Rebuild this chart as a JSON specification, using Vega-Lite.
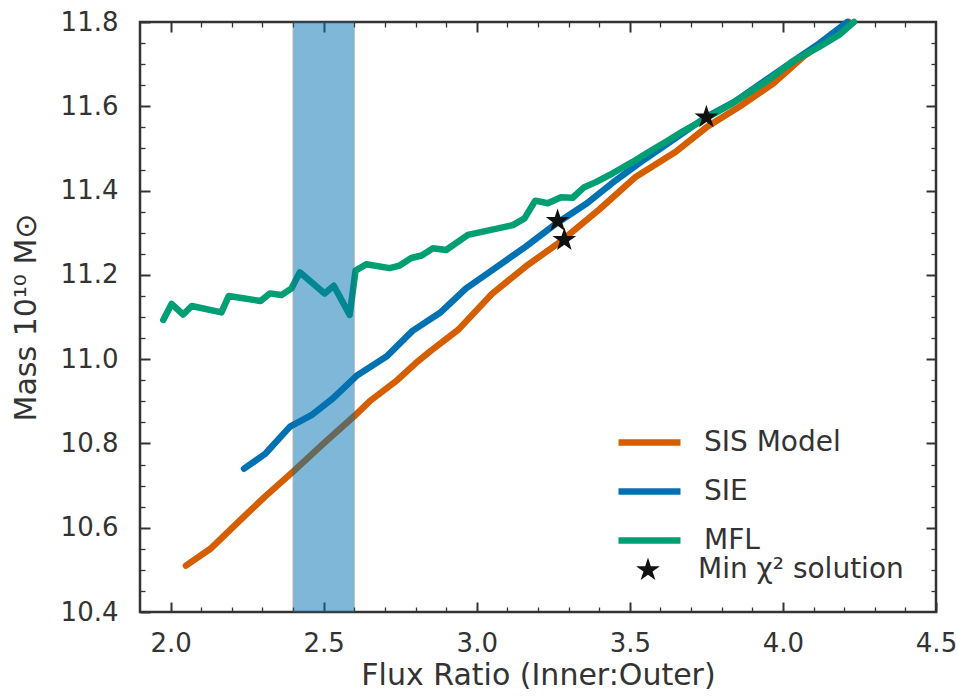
{
  "$schema": "https://vega.github.io/schema/vega-lite/v6.json",
  "width": 796,
  "height": 590,
  "autosize": "none",
  "padding": {"left": 140, "top": 22, "right": 21, "bottom": 88},
  "background": "white",
  "config": {
    "font": "DejaVu Sans",
    "view": {"stroke": "#333333", "strokeWidth": 2.5},
    "axis": {"grid": false, "domain": false, "labelColor": "#333333", "titleColor": "#333333", "tickColor": "#333333", "labelFont": "DejaVu Sans", "titleFont": "DejaVu Sans", "titleFontWeight": "normal"}
  },
  "datasets": {
    "lines": [
      {"model": "SIS Model", "ratio": 2.05, "mass": 10.51},
      {"model": "SIS Model", "ratio": 2.13, "mass": 10.55},
      {"model": "SIS Model", "ratio": 2.23, "mass": 10.62},
      {"model": "SIS Model", "ratio": 2.31, "mass": 10.675},
      {"model": "SIS Model", "ratio": 2.40, "mass": 10.733},
      {"model": "SIS Model", "ratio": 2.50, "mass": 10.80},
      {"model": "SIS Model", "ratio": 2.60, "mass": 10.865},
      {"model": "SIS Model", "ratio": 2.65, "mass": 10.90},
      {"model": "SIS Model", "ratio": 2.74, "mass": 10.95},
      {"model": "SIS Model", "ratio": 2.80, "mass": 10.99},
      {"model": "SIS Model", "ratio": 2.85, "mass": 11.02},
      {"model": "SIS Model", "ratio": 2.94, "mass": 11.07},
      {"model": "SIS Model", "ratio": 3.05, "mass": 11.155},
      {"model": "SIS Model", "ratio": 3.16, "mass": 11.22},
      {"model": "SIS Model", "ratio": 3.27, "mass": 11.277},
      {"model": "SIS Model", "ratio": 3.40, "mass": 11.355},
      {"model": "SIS Model", "ratio": 3.52, "mass": 11.433},
      {"model": "SIS Model", "ratio": 3.65, "mass": 11.492},
      {"model": "SIS Model", "ratio": 3.75, "mass": 11.55},
      {"model": "SIS Model", "ratio": 3.86, "mass": 11.60},
      {"model": "SIS Model", "ratio": 3.97, "mass": 11.655},
      {"model": "SIS Model", "ratio": 4.07, "mass": 11.72},
      {"model": "SIS Model", "ratio": 4.16, "mass": 11.765},
      {"model": "SIS Model", "ratio": 4.215, "mass": 11.80},
      {"model": "SIE", "ratio": 2.24, "mass": 10.74},
      {"model": "SIE", "ratio": 2.31, "mass": 10.776},
      {"model": "SIE", "ratio": 2.39, "mass": 10.84},
      {"model": "SIE", "ratio": 2.46, "mass": 10.867},
      {"model": "SIE", "ratio": 2.53, "mass": 10.907},
      {"model": "SIE", "ratio": 2.61, "mass": 10.962},
      {"model": "SIE", "ratio": 2.705, "mass": 11.006},
      {"model": "SIE", "ratio": 2.79, "mass": 11.067},
      {"model": "SIE", "ratio": 2.88, "mass": 11.11},
      {"model": "SIE", "ratio": 2.965, "mass": 11.168},
      {"model": "SIE", "ratio": 3.06, "mass": 11.216},
      {"model": "SIE", "ratio": 3.16, "mass": 11.267},
      {"model": "SIE", "ratio": 3.26, "mass": 11.322},
      {"model": "SIE", "ratio": 3.36, "mass": 11.37},
      {"model": "SIE", "ratio": 3.455, "mass": 11.425},
      {"model": "SIE", "ratio": 3.55, "mass": 11.475},
      {"model": "SIE", "ratio": 3.62, "mass": 11.51},
      {"model": "SIE", "ratio": 3.75, "mass": 11.575},
      {"model": "SIE", "ratio": 3.84, "mass": 11.61},
      {"model": "SIE", "ratio": 3.94, "mass": 11.66},
      {"model": "SIE", "ratio": 4.03, "mass": 11.705},
      {"model": "SIE", "ratio": 4.12, "mass": 11.75},
      {"model": "SIE", "ratio": 4.21, "mass": 11.80},
      {"model": "MFL", "ratio": 1.976, "mass": 11.093},
      {"model": "MFL", "ratio": 2.003, "mass": 11.131},
      {"model": "MFL", "ratio": 2.041, "mass": 11.106},
      {"model": "MFL", "ratio": 2.069, "mass": 11.126},
      {"model": "MFL", "ratio": 2.166, "mass": 11.111},
      {"model": "MFL", "ratio": 2.19, "mass": 11.15},
      {"model": "MFL", "ratio": 2.294, "mass": 11.138},
      {"model": "MFL", "ratio": 2.324, "mass": 11.156},
      {"model": "MFL", "ratio": 2.362, "mass": 11.152},
      {"model": "MFL", "ratio": 2.395, "mass": 11.168},
      {"model": "MFL", "ratio": 2.422, "mass": 11.206},
      {"model": "MFL", "ratio": 2.503, "mass": 11.156},
      {"model": "MFL", "ratio": 2.533, "mass": 11.174},
      {"model": "MFL", "ratio": 2.585, "mass": 11.105},
      {"model": "MFL", "ratio": 2.604, "mass": 11.21},
      {"model": "MFL", "ratio": 2.639, "mass": 11.225},
      {"model": "MFL", "ratio": 2.715, "mass": 11.216},
      {"model": "MFL", "ratio": 2.748, "mass": 11.222},
      {"model": "MFL", "ratio": 2.786, "mass": 11.24},
      {"model": "MFL", "ratio": 2.82, "mass": 11.246},
      {"model": "MFL", "ratio": 2.857, "mass": 11.263},
      {"model": "MFL", "ratio": 2.90, "mass": 11.259},
      {"model": "MFL", "ratio": 2.971, "mass": 11.295},
      {"model": "MFL", "ratio": 3.118, "mass": 11.318},
      {"model": "MFL", "ratio": 3.156, "mass": 11.334},
      {"model": "MFL", "ratio": 3.191, "mass": 11.376},
      {"model": "MFL", "ratio": 3.232, "mass": 11.37},
      {"model": "MFL", "ratio": 3.275, "mass": 11.384},
      {"model": "MFL", "ratio": 3.313, "mass": 11.383},
      {"model": "MFL", "ratio": 3.351, "mass": 11.408},
      {"model": "MFL", "ratio": 3.389, "mass": 11.42},
      {"model": "MFL", "ratio": 3.444, "mass": 11.441},
      {"model": "MFL", "ratio": 3.509, "mass": 11.468},
      {"model": "MFL", "ratio": 3.563, "mass": 11.492},
      {"model": "MFL", "ratio": 3.618, "mass": 11.516},
      {"model": "MFL", "ratio": 3.672, "mass": 11.54},
      {"model": "MFL", "ratio": 3.748, "mass": 11.571},
      {"model": "MFL", "ratio": 3.835, "mass": 11.607},
      {"model": "MFL", "ratio": 3.944, "mass": 11.658},
      {"model": "MFL", "ratio": 4.031, "mass": 11.706},
      {"model": "MFL", "ratio": 4.118, "mass": 11.741},
      {"model": "MFL", "ratio": 4.183, "mass": 11.769},
      {"model": "MFL", "ratio": 4.232, "mass": 11.80}
    ],
    "stars": [
      {"label": "Min χ² solution", "ratio": 3.264, "mass": 11.328},
      {"label": "Min χ² solution", "ratio": 3.286, "mass": 11.283},
      {"label": "Min χ² solution", "ratio": 3.750, "mass": 11.574}
    ],
    "band": [
      {"lo": 2.4, "hi": 2.6}
    ]
  },
  "resolve": {"axis": {"x": "independent", "y": "independent"}},
  "layer": [
    {
      "data": {"name": "lines"},
      "mark": {"type": "line", "strokeWidth": 6.5, "strokeCap": "round", "strokeJoin": "round"},
      "encoding": {
        "x": {
          "field": "ratio", "type": "quantitative",
          "scale": {"domain": [1.9, 4.5], "nice": false, "zero": false},
          "axis": {
            "orient": "bottom",
            "title": "Flux Ratio (Inner:Outer)",
            "titleFontSize": 30,
            "titlePadding": 4,
            "values": [2.0, 2.5, 3.0, 3.5, 4.0, 4.5],
            "format": ".1f",
            "labelFontSize": 26,
            "labelFlush": false,
            "labelPadding": 28,
            "tickSize": -10,
            "tickWidth": 2
          }
        },
        "y": {
          "field": "mass", "type": "quantitative",
          "scale": {"domain": [10.4, 11.8], "nice": false, "zero": false},
          "axis": {
            "orient": "left",
            "title": "Mass 10¹⁰ M⊙",
            "titleFontSize": 30,
            "titlePadding": 19,
            "values": [10.4, 10.6, 10.8, 11.0, 11.2, 11.4, 11.6, 11.8],
            "format": ".1f",
            "labelFontSize": 26,
            "labelFlush": false,
            "labelPadding": 32,
            "tickSize": -10,
            "tickWidth": 2
          }
        },
        "color": {
          "field": "model", "type": "nominal",
          "scale": {"domain": ["SIS Model", "SIE", "MFL"], "range": ["#D55E00", "#0072B2", "#009E73"]},
          "legend": {
            "title": null,
            "orient": "none",
            "legendX": 475,
            "legendY": 386,
            "symbolType": "stroke",
            "symbolStrokeWidth": 6.5,
            "symbolSize": 3844,
            "labelFontSize": 28,
            "labelColor": "#333333",
            "labelFont": "DejaVu Sans",
            "labelLimit": 0,
            "rowPadding": -12,
            "labelOffset": 20
          }
        }
      }
    },
    {
      "data": {"name": "band"},
      "mark": {"type": "rect", "color": "#0072B2", "opacity": 0.5, "stroke": "#555555", "strokeWidth": 1.5, "strokeOpacity": 0.6},
      "encoding": {
        "x": {"field": "lo", "type": "quantitative", "axis": null},
        "x2": {"field": "hi"}
      }
    },
    {
      "data": {"name": "stars"},
      "mark": {"type": "point", "filled": true, "color": "#111111", "opacity": 1, "size": 625},
      "encoding": {
        "x": {
          "field": "ratio", "type": "quantitative",
          "axis": {"orient": "top", "title": null, "labels": false, "values": [2.0, 2.5, 3.0, 3.5, 4.0], "tickSize": -10, "tickWidth": 2}
        },
        "y": {
          "field": "mass", "type": "quantitative",
          "axis": {"orient": "right", "title": null, "labels": false, "values": [10.6, 10.8, 11.0, 11.2, 11.4, 11.6], "tickSize": -10, "tickWidth": 2}
        },
        "shape": {
          "field": "label", "type": "nominal",
          "scale": {"range": ["M0,-1L0.2245,-0.309L0.951,-0.309L0.363,0.118L0.588,0.809L0,0.382L-0.588,0.809L-0.363,0.118L-0.951,-0.309L-0.2245,-0.309Z"]},
          "legend": {
            "title": null,
            "orient": "none",
            "legendX": 494,
            "legendY": 534,
            "symbolSize": 625,
            "symbolFillColor": "#111111",
            "symbolStrokeColor": "#111111",
            "labelFontSize": 28,
            "labelColor": "#333333",
            "labelFont": "DejaVu Sans",
            "labelLimit": 0,
            "labelOffset": 36
          }
        }
      }
    },
    {
      "data": {"name": "stars"},
      "mark": {"type": "point", "opacity": 0},
      "encoding": {
        "x": {
          "field": "ratio", "type": "quantitative",
          "axis": {"orient": "bottom", "title": null, "labels": false, "values": [2.1, 2.2, 2.3, 2.4, 2.6, 2.7, 2.8, 2.9, 3.1, 3.2, 3.3, 3.4, 3.6, 3.7, 3.8, 3.9, 4.1, 4.2, 4.3, 4.4], "tickSize": -5, "tickWidth": 1.3}
        },
        "y": {
          "field": "mass", "type": "quantitative",
          "axis": {"orient": "left", "title": null, "labels": false, "values": [10.45, 10.5, 10.55, 10.65, 10.7, 10.75, 10.85, 10.9, 10.95, 11.05, 11.1, 11.15, 11.25, 11.3, 11.35, 11.45, 11.5, 11.55, 11.65, 11.7, 11.75], "tickSize": -5, "tickWidth": 1.3}
        }
      }
    },
    {
      "data": {"name": "stars"},
      "mark": {"type": "point", "opacity": 0},
      "encoding": {
        "x": {
          "field": "ratio", "type": "quantitative",
          "axis": {"orient": "top", "title": null, "labels": false, "values": [2.1, 2.2, 2.3, 2.4, 2.6, 2.7, 2.8, 2.9, 3.1, 3.2, 3.3, 3.4, 3.6, 3.7, 3.8, 3.9, 4.1, 4.2, 4.3, 4.4], "tickSize": -5, "tickWidth": 1.3}
        },
        "y": {
          "field": "mass", "type": "quantitative",
          "axis": {"orient": "right", "title": null, "labels": false, "values": [10.45, 10.5, 10.55, 10.65, 10.7, 10.75, 10.85, 10.9, 10.95, 11.05, 11.1, 11.15, 11.25, 11.3, 11.35, 11.45, 11.5, 11.55, 11.65, 11.7, 11.75], "tickSize": -5, "tickWidth": 1.3}
        }
      }
    }
  ]
}
